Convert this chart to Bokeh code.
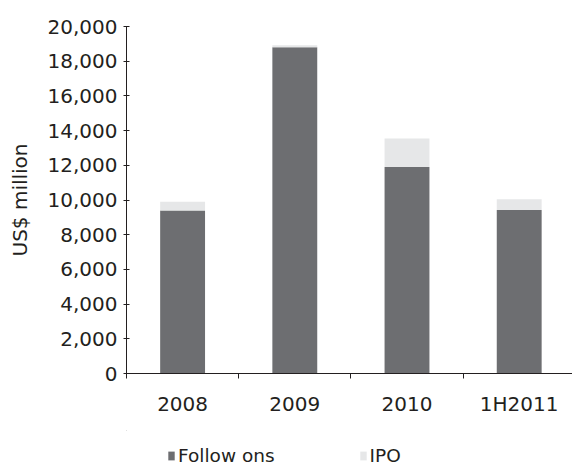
from bokeh.plotting import figure
from bokeh.layouts import column
from bokeh.models import ColumnDataSource, Range1d, FixedTicker, Legend, LegendItem, NumeralTickFormatter
from bokeh.embed import file_html
from bokeh.resources import INLINE

categories = ["2008", "2009", "2010", "1H2011"]
follow_ons = [9400, 18800, 11900, 9430]
ipo = [500, 120, 1640, 620]
y_ticks = [0, 2000, 4000, 6000, 8000, 10000, 12000, 14000, 16000, 18000, 20000]
series_names = ["Follow ons", "IPO"]
series_colors = ["#6d6e71", "#e6e7e8"]

xs = [i + 0.5 for i in range(len(categories))]
tops = [f + i for f, i in zip(follow_ons, ipo)]
src = ColumnDataSource(dict(x=xs, f=follow_ons, t=tops, z=[0] * len(xs)))

FONT = "DejaVu Sans"
TXT = "#231f20"

p = figure(width=572, height=430, output_backend="svg", toolbar_location=None,
           x_range=Range1d(0, 3.975), y_range=Range1d(0, 20000),
           min_border_left=126, min_border_right=0, min_border_top=26, min_border_bottom=57)
p.outline_line_color = None
p.xgrid.visible = False
p.ygrid.visible = False

p.vbar(x="x", bottom="z", top="f", width=0.40, source=src, fill_color=series_colors[0], line_color=None)
p.vbar(x="x", bottom="f", top="t", width=0.40, source=src, fill_color=series_colors[1], line_color=None)

# x axis: labels at category centers, tick marks at category boundaries
p.xaxis.ticker = FixedTicker(ticks=xs, minor_ticks=list(range(len(categories) + 1)))
p.xaxis.major_label_overrides = {x: c for x, c in zip(xs, categories)}
p.xaxis.major_tick_line_color = None
p.xaxis.major_tick_out = 0
p.xaxis.major_tick_in = 0
p.xaxis.minor_tick_out = 5
p.xaxis.minor_tick_in = 0
p.xaxis.minor_tick_line_color = TXT
p.xaxis.major_label_standoff = 13
p.xaxis.axis_line_color = TXT

p.yaxis.ticker = FixedTicker(ticks=y_ticks)
p.yaxis.formatter = NumeralTickFormatter(format="0,0")
p.yaxis.minor_tick_line_color = None
p.yaxis.major_tick_out = 3
p.yaxis.major_tick_in = 3
p.yaxis.major_tick_line_color = TXT
p.yaxis.axis_line_color = TXT
p.yaxis.major_label_standoff = 6
p.yaxis.axis_label = "US$ million"
p.yaxis.axis_label_standoff = 13
p.yaxis.axis_label_text_font_style = "normal"

for ax in (p.xaxis, p.yaxis):
    ax.major_label_text_font = FONT
    ax.major_label_text_font_size = "20px"
    ax.major_label_text_color = TXT
    ax.axis_label_text_font = FONT
    ax.axis_label_text_font_size = "20px"
    ax.axis_label_text_color = TXT

# legend strip below the chart (its bars lie outside its ranges, only the legend shows)
lg = figure(width=572, height=35, output_backend="svg", toolbar_location=None,
            x_range=Range1d(100, 101), y_range=Range1d(-2, -1),
            min_border_left=0, min_border_right=0, min_border_top=0, min_border_bottom=0)
lg.axis.visible = False
lg.grid.visible = False
lg.outline_line_color = None
lr1 = lg.vbar(x="x", bottom="z", top="f", width=0.40, source=src, fill_color=series_colors[0], line_color=None)
lr2 = lg.vbar(x="x", bottom="f", top="t", width=0.40, source=src, fill_color=series_colors[1], line_color=None)

legend = Legend(items=[LegendItem(label=series_names[0], renderers=[lr1]),
                       LegendItem(label=series_names[1], renderers=[lr2])],
                location=(41, -1), orientation="horizontal",
                glyph_width=8, glyph_height=11, label_standoff=3, spacing=84,
                padding=0, margin=0, border_line_color=None, background_fill_alpha=0,
                label_text_font=FONT, label_text_font_size="18.5px", label_text_color=TXT,
                label_height=14)
lg.add_layout(legend, "center")

layout = column(p, lg, spacing=0)
open("out.html", "w").write(file_html(layout, INLINE))
